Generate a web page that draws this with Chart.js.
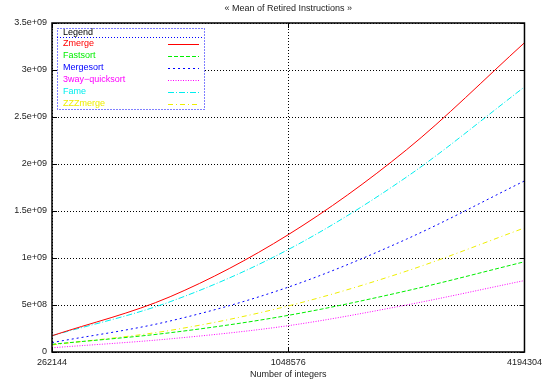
<!DOCTYPE html>
<html>
<head>
<meta charset="utf-8">
<script src="https://cdn.jsdelivr.net/npm/chart.js@4"></script>
<style>
    html, body { margin: 0; padding: 0; background: #fff; }
    #wrap { width: 547px; height: 387px; }
</style>
</head>
<body>
<div id="wrap"><canvas id="chart"></canvas></div>
<script>
// Data
const sizes = [262144, 524288, 1048576, 2097152, 4194304];
const xTicks = [262144, 1048576, 4194304];
const yTicks = [0, 5e8, 1e9, 1.5e9, 2e9, 2.5e9, 3e9, 3.5e9];

const zmerge = [1.73e8, 5.88e8, 1.248e9, 2.15e9, 3.29e9];
const fastsort = [0.82e8, 2.05e8, 3.9e8, 6.5e8, 9.6e8];
const mergesort = [1.0e8, 3.3e8, 6.9e8, 1.2e9, 1.82e9];
const quicksort3 = [0.45e8, 1.4e8, 2.8e8, 5.0e8, 7.6e8];
const fame = [1.73e8, 5.35e8, 1.09e9, 1.86e9, 2.82e9];
const zzzmerge = [0.75e8, 2.3e8, 4.9e8, 8.6e8, 1.32e9];

const seriesNames = ['Zmerge', 'Fastsort', 'Mergesort', '3way\u2212quicksort', 'Fame', 'ZZZmerge'];
const seriesValues = [zmerge, fastsort, mergesort, quicksort3, fame, zzzmerge];
const seriesColors = ['#ff0000', '#00ee00', '#0000ff', '#ff00ff', '#00eeee', '#eeee00'];
const seriesDashes = [[], [4, 2], [2, 3], [1, 1.5], [6, 2, 1, 2], [5, 3, 1, 3]];

const FONT = "'Liberation Sans', Arial, sans-serif";
Chart.defaults.font.family = FONT;
Chart.defaults.font.size = 9;
Chart.defaults.color = '#222';

const fmtY = (v) => {
    if (v === 0) return '0';
    return v.toExponential().replace(/e\+(\d)$/, 'e+0$1');
};

// Frame, inner ticks, title and legend, gnuplot style
const decorPlugin = {
    id: 'decor',
    afterDraw(chart) {
        const ctx = chart.ctx;
        const a = chart.chartArea;
        const xs = chart.scales.x, ys = chart.scales.y;
        ctx.save();

        // tick marks inside the border
        ctx.strokeStyle = '#000';
        ctx.lineWidth = 1;
        ctx.beginPath();
        yTicks.forEach(v => {
            const y = Math.round(ys.getPixelForValue(v)) + 0.5;
            ctx.moveTo(a.left, y); ctx.lineTo(a.left + 5, y);
            ctx.moveTo(a.right, y); ctx.lineTo(a.right - 5, y);
        });
        xTicks.forEach(v => {
            const x = Math.round(xs.getPixelForValue(v)) + 0.5;
            ctx.moveTo(x, a.bottom); ctx.lineTo(x, a.bottom - 5);
            ctx.moveTo(x, a.top); ctx.lineTo(x, a.top + 5);
        });
        ctx.stroke();

        // border
        ctx.lineWidth = 1.5;
        ctx.strokeRect(a.left, a.top, a.right - a.left, a.bottom - a.top);

        // title and x axis title
        ctx.fillStyle = '#222';
        ctx.font = '9px ' + FONT;
        ctx.textAlign = 'center';
        ctx.textBaseline = 'middle';
        ctx.fillText('\u00ab Mean of Retired Instructions \u00bb', (a.left + a.right) / 2, 9);
        ctx.fillText('Number of integers', (a.left + a.right) / 2, 375);

        // legend box
        const bx = 57, by = 28, bw = 147, bh = 81;
        ctx.fillStyle = '#fff';
        ctx.fillRect(bx, by, bw, bh);
        ctx.strokeStyle = '#0000ff';
        ctx.lineWidth = 1;
        ctx.setLineDash([1, 2]);
        ctx.strokeRect(bx + 0.5, by + 0.5, bw, bh);
        ctx.beginPath();
        ctx.moveTo(bx, 37.5); ctx.lineTo(bx + bw, 37.5);
        ctx.stroke();
        ctx.setLineDash([]);

        ctx.textAlign = 'left';
        ctx.fillStyle = '#000';
        ctx.fillText('Legend', 63, 32.5);
        seriesNames.forEach((name, i) => {
            const y = 43.5 + i * 12;
            ctx.fillStyle = seriesColors[i];
            ctx.fillText(name, 63, y);
            ctx.strokeStyle = seriesColors[i];
            ctx.setLineDash(seriesDashes[i]);
            ctx.beginPath();
            ctx.moveTo(168, Math.round(y) + 0.5);
            ctx.lineTo(199, Math.round(y) + 0.5);
            ctx.stroke();
        });
        ctx.restore();
    }
};

const datasets = seriesNames.map((name, i) => ({
    label: name,
    data: sizes.map((n, j) => ({ x: n, y: seriesValues[i][j] })),
    borderColor: seriesColors[i],
    borderDash: seriesDashes[i],
    borderWidth: 1,
    pointRadius: 0,
    fill: false,
    cubicInterpolationMode: 'monotone'
}));

new Chart(document.getElementById('chart'), {
    type: 'line',
    data: { datasets },
    plugins: [decorPlugin],
    options: {
        responsive: true,
        maintainAspectRatio: false,
        animation: false,
        layout: { padding: { top: 23, right: 21, left: 0, bottom: 0 } },
        plugins: {
            legend: { display: false },
            tooltip: { enabled: false }
        },
        scales: {
            x: {
                type: 'logarithmic',
                min: 262144,
                max: 4194304,
                afterBuildTicks: (axis) => { axis.ticks = xTicks.map(v => ({ value: v })); },
                afterFit: (axis) => { axis.height = 35; },
                grid: { color: '#000', drawTicks: false },
                border: { display: false, dash: [1, 2] },
                ticks: {
                    autoSkip: false,
                    maxRotation: 0,
                    padding: 5,
                    color: '#222',
                    callback: (v) => String(v)
                }
            },
            y: {
                min: 0,
                max: 3.5e9,
                afterBuildTicks: (axis) => { axis.ticks = yTicks.map(v => ({ value: v })); },
                afterFit: (axis) => { axis.width = 52; },
                grid: { color: '#000', drawTicks: false },
                border: { display: false, dash: [1, 2] },
                ticks: {
                    padding: 5,
                    color: '#222',
                    callback: (v) => fmtY(v)
                }
            }
        }
    }
});
</script>
</body>
</html>
